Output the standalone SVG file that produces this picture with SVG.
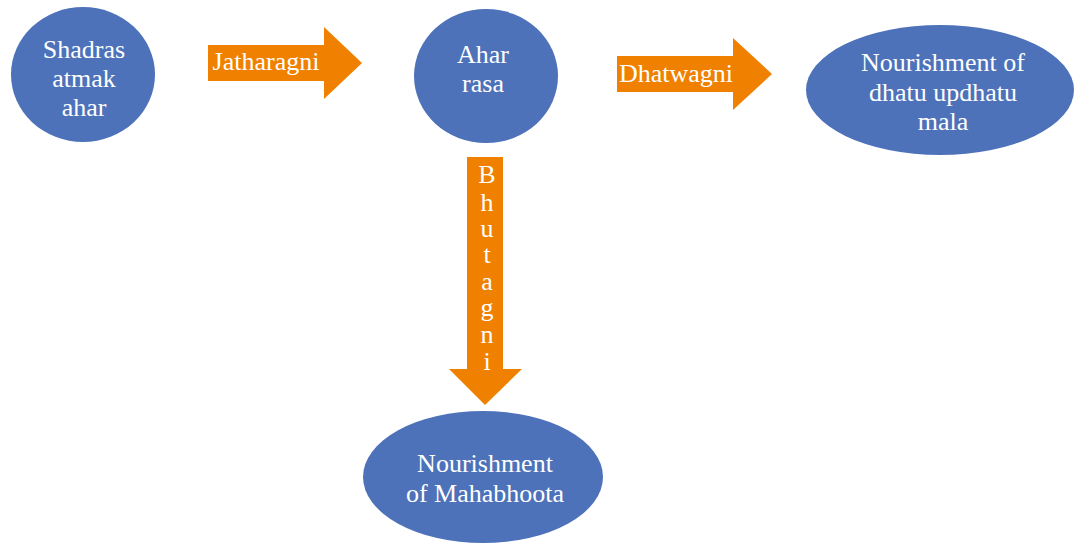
<svg xmlns="http://www.w3.org/2000/svg" width="1074" height="543" viewBox="0 0 1074 543">
<style>
.node{fill:#4D72BA}
.arr{fill:#F08000}
.t{font-family:'Liberation Serif','Times New Roman',serif;font-size:26px;fill:#FFFFFF;text-anchor:middle}
</style>
<rect width="1074" height="543" fill="#FFFFFF"/>
<g id="connectors">
<g id="jatharagni">
<polygon class="arr" points="208,45 324,45 324,27 362,63 324,99 324,81 208,81"/>
<text class="t" x="266" y="70">Jatharagni</text>
</g>
<g id="dhatwagni">
<polygon class="arr" points="617,56 733,56 733,38 772,74 733,110 733,92 617,92"/>
<text class="t" x="676" y="82">Dhatwagni</text>
</g>
<g id="bhutagni">
<polygon class="arr" points="467,157 503,157 503,369 522,369 485,405 449,369 467,369"/>
<text class="t" x="487" y="183">B<tspan x="487" dy="28">h</tspan><tspan x="487" dy="26">u</tspan><tspan x="487" dy="26">t</tspan><tspan x="487" dy="27">a</tspan><tspan x="487" dy="26">g</tspan><tspan x="487" dy="27">n</tspan><tspan x="487" dy="27">i</tspan></text>
</g>
</g>
<g id="shadras">
<ellipse class="node" cx="83" cy="74.5" rx="72" ry="67.5"/>
<text class="t" x="84" y="58">Shadras<tspan x="84" dy="29">atmak</tspan><tspan x="84" dy="29">ahar</tspan></text>
</g>
<g id="ahar-rasa">
<ellipse class="node" cx="486" cy="76" rx="72" ry="67"/>
<text class="t" x="483" y="63">Ahar<tspan x="483" dy="29">rasa</tspan></text>
</g>
<g id="dhatu">
<ellipse class="node" cx="940" cy="90" rx="134" ry="65"/>
<text class="t" x="943" y="71">Nourishment of<tspan x="943" dy="30">dhatu updhatu</tspan><tspan x="943" dy="29">mala</tspan></text>
</g>
<g id="mahabhoota">
<ellipse class="node" cx="483" cy="477" rx="120" ry="66"/>
<text class="t" x="485" y="472">Nourishment<tspan x="485" dy="30">of Mahabhoota</tspan></text>
</g>
</svg>
